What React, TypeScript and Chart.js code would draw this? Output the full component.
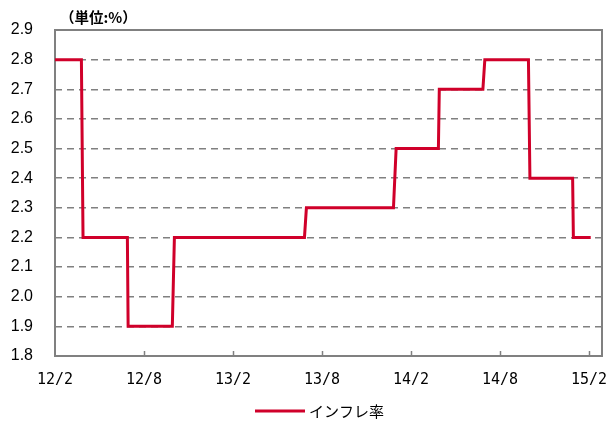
import React, { useEffect, useRef } from "react";
import { Chart, registerables } from "chart.js";

Chart.register(...registerables);

// months counted from 2012/2
const xTickMonths = [0, 6, 12, 18, 24, 30, 36];
const xTickLabels = ["12/2", "12/8", "13/2", "13/8", "14/2", "14/8", "15/2"];
const yTickValues = [1.8, 1.9, 2.0, 2.1, 2.2, 2.3, 2.4, 2.5, 2.6, 2.7, 2.8, 2.9];

// each value holds from periodStart to periodEnd (months since 2012/2)
const periodStart = [0, 1.89, 4.93, 8.05, 16.95, 23.0, 25.91, 28.98, 32.02, 34.95];
const periodEnd = [1.78, 4.88, 7.91, 16.82, 22.82, 25.85, 28.85, 31.92, 34.9, 36.12];
const inflation = [2.8, 2.2, 1.9, 2.2, 2.3, 2.5, 2.7, 2.8, 2.4, 2.2];

const seriesName = "インフレ率";
const unitLabel = "（単位:%）";

const RED = "#D0002A";
const GRAY = "#808080";

export default function App() {
  const ref = useRef<HTMLCanvasElement | null>(null);

  useEffect(() => {
    document.body.style.margin = "0";
    const points: { x: number; y: number }[] = [];
    inflation.forEach((v, i) => {
      points.push({ x: periodStart[i], y: v });
      points.push({ x: periodEnd[i], y: v });
    });

    const framePlugin = {
      id: "frame",
      beforeDatasetsDraw(chart: any) {
        const { ctx, chartArea } = chart;
        const xs = chart.scales.x;
        ctx.save();
        ctx.strokeStyle = GRAY;
        ctx.lineWidth = 2;
        ctx.setLineDash([]);
        ctx.strokeRect(chartArea.left, chartArea.top, chartArea.right - chartArea.left, chartArea.bottom - chartArea.top);
        ctx.lineWidth = 1.5;
        xTickMonths.forEach((m) => {
          if (m === 0) return;
          const px = Math.round(xs.getPixelForValue(m)) + 0.5;
          ctx.beginPath();
          ctx.moveTo(px, chartArea.bottom);
          ctx.lineTo(px, chartArea.bottom - 5);
          ctx.stroke();
        });
        ctx.restore();
      },
      afterDraw(chart: any) {
        const { ctx } = chart;
        ctx.save();
        ctx.fillStyle = "#000";
        ctx.font = "bold 14.5px 'Noto Sans CJK JP'";
        ctx.textBaseline = "middle";
        ctx.textAlign = "left";
        ctx.fillText(unitLabel, 60, 17);
        // legend
        ctx.strokeStyle = RED;
        ctx.lineWidth = 3;
        ctx.beginPath();
        ctx.moveTo(255, 411);
        ctx.lineTo(305, 411);
        ctx.stroke();
        ctx.font = "15px 'Noto Sans CJK JP'";
        ctx.fillText(seriesName, 309, 411);
        ctx.restore();
      },
    };

    const chart = new Chart(ref.current as HTMLCanvasElement, {
      type: "line",
      data: {
        datasets: [
          {
            label: seriesName,
            data: points,
            borderColor: RED,
            backgroundColor: RED,
            borderWidth: 3,
            pointRadius: 0,
            tension: 0,
            borderJoinStyle: "miter",
            borderCapStyle: "butt",
          },
        ],
      },
      options: {
        animation: false,
        responsive: true,
        maintainAspectRatio: false,
        layout: { padding: { top: 30, right: 7, left: 0, bottom: 0 } },
        plugins: { legend: { display: false }, tooltip: { enabled: false } },
        scales: {
          x: {
            type: "linear",
            min: 0,
            max: 36.88,
            afterBuildTicks: (s: any) => {
              s.ticks = xTickMonths.map((v) => ({ value: v }));
            },
            afterFit: (s: any) => {
              s.height = 65;
              s.paddingLeft = 0;
              s.paddingRight = 0;
            },
            ticks: {
              autoSkip: false,
              maxRotation: 0,
              padding: 15,
              color: "#000",
              font: { family: "'DejaVu Sans Mono'", size: 15 },
              callback: (v: any) => xTickLabels[xTickMonths.indexOf(Number(v))] ?? "",
            },
            grid: { display: false, drawTicks: false },
            border: { display: false },
          },
          y: {
            min: 1.8,
            max: 2.9,
            afterBuildTicks: (s: any) => {
              s.ticks = yTickValues.map((v) => ({ value: v }));
            },
            afterFit: (s: any) => {
              s.width = 55;
              s.paddingTop = 0;
              s.paddingBottom = 0;
            },
            ticks: {
              padding: 22,
              color: "#000",
              font: { family: "'Liberation Sans', Arial", size: 16 },
              callback: (v: any) => Number(v).toFixed(1),
            },
            grid: {
              drawTicks: false,
              lineWidth: 1.5,
              color: (c: any) => {
                const v = c.tick ? c.tick.value : 0;
                if (Math.abs(v - 1.8) < 1e-6 || Math.abs(v - 2.9) < 1e-6) return "rgba(0,0,0,0)";
                return GRAY;
              },
            },
            border: { display: false, dash: [7, 5] },
          },
        },
      },
      plugins: [framePlugin],
    } as any);

    return () => chart.destroy();
  }, []);

  return (
    <div style={{ position: "absolute", left: 0, top: 0, width: 609, height: 421 }}>
      <canvas ref={ref} />
    </div>
  );
}
